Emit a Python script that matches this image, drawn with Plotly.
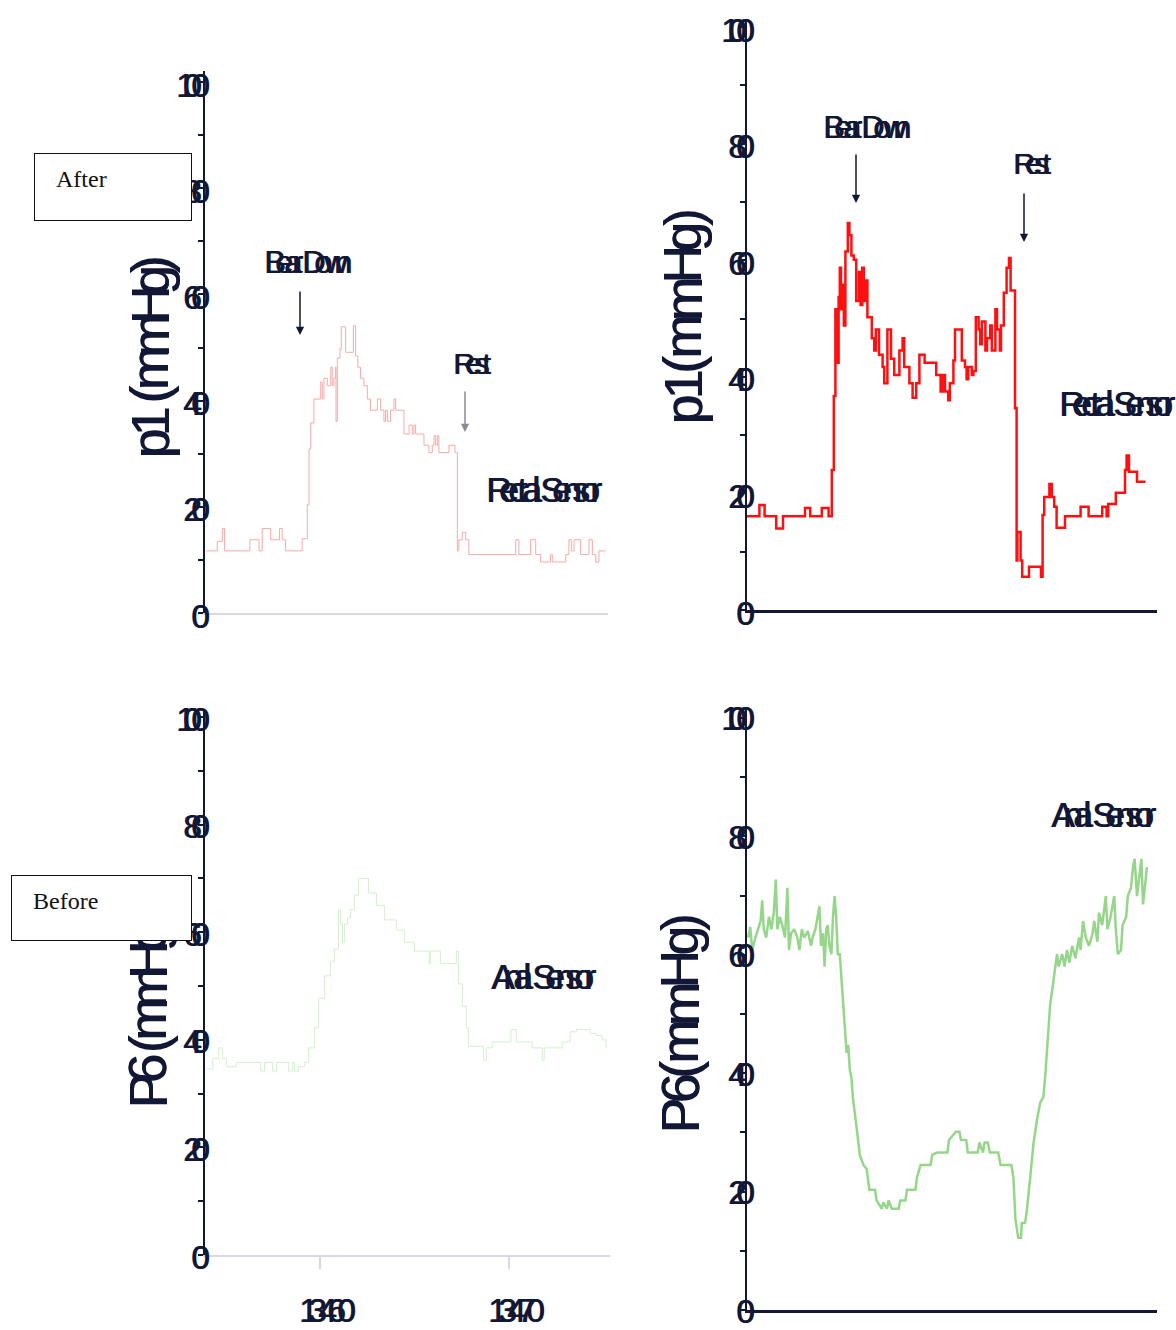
import plotly.graph_objects as go

# ---------------------------------------------------------------- data
# Left column: recording time (s); right column: elapsed time (s)
after_t = [13454.0, 13454.6, 13454.87, 13454.99, 13456.33, 13456.81, 13456.98, 13457.43,
           13457.90, 13458.04, 13458.22, 13459.10, 13459.37, 13459.46, 13459.55, 13459.72,
           13460.08, 13460.16, 13460.25, 13460.43, 13460.61, 13460.69, 13460.78, 13460.87,
           13460.89, 13460.96, 13461.10, 13461.17, 13461.40, 13461.81, 13461.93, 13462.05,
           13462.19, 13462.37, 13462.55, 13462.72, 13463.08, 13463.25, 13463.43, 13463.52,
           13463.61, 13463.78, 13463.96, 13464.05, 13464.49, 13464.76, 13464.93, 13465.02,
           13465.11, 13465.55, 13465.81, 13465.99, 13466.08, 13466.17, 13466.26, 13466.34,
           13466.87, 13467.19, 13467.32, 13467.40, 13467.58, 13467.76, 13467.93, 13470.41,
           13470.58, 13471.20, 13471.47, 13471.73, 13472.26, 13472.35, 13473.06, 13473.23,
           13473.36, 13473.50, 13473.85, 13474.29, 13474.47, 13474.65, 13474.82, 13475.18]
after_p1 = [11.7, 13.5, 15.9, 11.7, 13.8, 11.7, 15.9, 13.8,
            15.9, 13.8, 11.7, 14.0, 20.4, 30.9, 35.8, 40.3,
            43.5, 40.3, 44.2, 42.8, 46.3, 42.8, 44.2, 46.3,
            36.1, 48.0, 49.8, 53.9, 49.1, 54.1, 48.4, 46.3,
            44.2, 42.8, 40.3, 38.2, 40.3, 38.2, 36.1, 38.2,
            36.1, 38.2, 40.3, 38.2, 33.7, 35.4, 33.7, 35.4,
            33.7, 31.6, 30.2, 31.6, 33.4, 31.6, 33.4, 30.2,
            31.6, 30.2, 11.7, 13.8, 15.2, 13.8, 11.0, 13.8,
            11.0, 13.8, 11.0, 9.6, 11.0, 9.6, 11.0, 13.8,
            11.7, 13.8, 11.0, 13.8, 11.0, 9.6, 11.7, 11.7]

before_t = [13454.04, 13454.36, 13454.67, 13454.88, 13455.09, 13455.62, 13456.88, 13457.09,
            13457.52, 13457.73, 13458.36, 13458.57, 13458.67, 13458.88, 13459.20, 13459.41,
            13459.73, 13459.94, 13460.25, 13460.57, 13460.78, 13460.99, 13461.09, 13461.20,
            13461.31, 13461.47, 13461.62, 13461.83, 13462.04, 13462.57, 13462.99, 13463.41,
            13464.04, 13464.46, 13464.99, 13465.77, 13465.83, 13466.36, 13467.20, 13467.31,
            13467.52, 13467.73, 13467.83, 13468.63, 13468.78, 13469.09, 13470.08, 13470.36,
            13471.20, 13471.73, 13471.83, 13472.78, 13473.20, 13473.52, 13474.25, 13474.57,
            13474.88, 13475.09]
before_p6 = [34.6, 36.5, 38.5, 36.5, 35.0, 35.8, 34.2, 35.8,
             34.2, 35.8, 34.2, 35.8, 34.2, 35.0, 35.8, 38.5,
             42.3, 47.7, 51.9, 54.6, 56.9, 64.2, 61.5, 58.1,
             61.5, 62.7, 64.2, 66.9, 70.0, 67.3, 65.0, 62.3,
             60.4, 58.1, 56.5, 54.2, 56.5, 54.2, 56.5, 50.4,
             46.2, 42.3, 38.8, 36.2, 38.5, 39.6, 41.9, 39.6,
             38.5, 36.2, 38.5, 39.6, 41.5, 41.9, 41.2, 40.8,
             40.0, 38.5]

rest_t = [0, 3.1, 4.4, 7.3, 9.0, 14.5, 15.8, 18.7, 20.4, 21.2, 21.7, 22.1, 22.5, 22.9,
          23.2, 23.5, 23.8, 24.2, 24.6, 25.2, 25.6, 26.1, 26.7, 27.3, 28.0, 28.4, 28.8,
          29.2, 29.7, 30.1, 31.2, 31.8, 32.2, 33.0, 33.9, 34.3, 35.1, 36.0, 36.8, 38.1,
          38.9, 39.3, 40.6, 41.4, 42.3, 43.1, 44.4, 47.3, 48.4, 49.0, 49.5, 50.3, 50.7,
          51.6, 52.0, 53.7, 54.5, 54.9, 55.3, 56.2, 56.6, 57.2, 57.9, 58.3, 58.7, 59.6,
          60.0, 60.8, 61.2, 62.1, 62.5, 63.2, 63.5, 64.2, 64.9, 65.5, 65.9, 67.0, 67.4,
          67.6, 68.4, 68.8, 70.5, 73.5, 73.9, 74.3, 75.6, 76.2, 76.8, 77.4, 79.5, 83.4,
          85.4, 88.8, 89.9, 90.3, 92.2, 94.5, 94.9, 95.5, 97.5, 99.6]
rest_p1 = [16.1, 18.0, 16.1, 14.0, 16.1, 17.5, 16.1, 17.5, 16.1, 24.0, 36.7, 51.6, 42.4, 53.7,
           58.7, 51.6, 55.8, 48.8, 61.5, 66.4, 64.3, 60.8, 60.1, 53.0, 58.0, 52.3, 58.7,
           53.0, 56.5, 50.2, 46.6, 44.5, 48.1, 43.8, 41.7, 38.9, 48.1, 43.1, 40.3, 44.5,
           46.6, 41.7, 38.9, 36.4, 38.9, 43.8, 42.4, 40.3, 37.5, 40.3, 37.5, 36.0, 38.9,
           42.8, 48.1, 42.8, 41.7, 39.6, 41.7, 40.3, 41.0, 50.2, 48.1, 45.6, 49.5, 44.5,
           46.6, 48.8, 44.5, 51.6, 48.1, 44.5, 48.8, 54.4, 58.7, 60.4, 54.8, 34.6, 8.5,
           13.4, 8.5, 5.7, 7.4, 5.7, 16.3, 19.4, 21.6, 19.4, 17.7, 14.1, 16.1, 17.7,
           16.1, 17.7, 16.1, 18.2, 20.1, 24.0, 26.5, 23.7, 22.0, 22.0]

anal_t = [0.3, 0.8, 1.3, 2.1, 3.4, 3.8, 4.2, 4.8, 5.5, 6.1, 6.7, 7.2, 7.6, 8.2, 8.8, 9.5,
          10.1, 10.5, 11.0, 11.8, 12.6, 13.1, 13.7, 14.3, 15.2, 16.0, 16.4, 17.1, 18.1, 18.5,
          19.0, 19.4, 19.8, 20.2, 20.6, 21.1, 21.5, 21.9, 22.3, 22.7, 23.2, 23.6, 24.0, 24.4,
          24.9, 25.3, 25.7, 26.1, 26.5, 27.4, 28.2, 29.1, 29.9, 30.6, 32.0, 32.4, 33.7, 34.1,
          35.0, 35.4, 36.2, 37.9, 38.3, 39.6, 40.0, 42.1, 42.5, 43.4, 45.9, 46.3, 47.6, 50.1,
          50.5, 52.2, 53.1, 53.5, 54.8, 55.2, 57.7, 58.1, 59.0, 59.4, 60.2, 60.7, 62.8, 63.4,
          66.1, 66.6, 67.1, 67.8, 68.5, 68.7, 69.5, 69.9, 70.3, 70.8, 71.6, 72.5, 73.3, 74.1,
          74.6, 75.4, 75.8, 76.4, 77.1, 77.5, 77.9, 78.8, 79.4, 80.0, 80.6, 81.3, 82.1, 83.0,
          83.4, 84.0, 84.7, 85.5, 86.4, 86.8, 87.6, 88.0, 88.8, 89.7, 90.1, 90.9, 91.8, 92.2,
          92.7, 93.5, 93.9, 94.8, 95.2, 96.0, 96.5, 96.9, 97.5, 98.0, 98.6, 99.0, 99.4, 100.0]
anal_p6 = [62.9, 64.7, 60.8, 62.9, 65.7, 69.2, 64.3, 62.9, 66.4, 64.3, 67.1, 72.7, 64.3, 66.4,
           65.0, 62.9, 71.3, 60.8, 63.6, 64.3, 62.9, 60.8, 64.3, 62.9, 64.0, 61.5, 62.9, 64.3,
           68.2, 61.5, 63.6, 58.0, 64.3, 65.0, 61.5, 60.1, 66.4, 69.9, 66.4, 60.1, 60.1, 55.9,
           51.7, 47.6, 43.4, 44.8, 40.6, 39.2, 35.7, 30.8, 26.2, 24.5, 23.8, 20.3, 20.3, 18.5,
           17.1, 18.2, 17.1, 18.5, 17.1, 17.1, 18.5, 18.5, 20.3, 20.3, 22.4, 24.5, 24.5, 26.2,
           26.6, 26.6, 28.7, 30.1, 30.1, 28.7, 28.7, 26.6, 26.6, 28.3, 26.6, 28.3, 28.3, 26.6,
           26.6, 24.5, 24.5, 22.4, 15.4, 12.2, 12.2, 14.7, 14.7, 16.4, 19.6, 22.4, 28.0, 32.2,
           35.0, 36.0, 39.9, 46.9, 51.7, 54.5, 58.7, 60.1, 58.0, 60.1, 58.0, 60.8, 58.7, 61.5,
           59.4, 62.9, 60.8, 65.7, 62.9, 61.5, 63.6, 65.7, 62.2, 67.1, 65.0, 69.9, 64.3, 66.4,
           69.9, 64.3, 60.1, 60.8, 65.0, 66.4, 69.9, 71.3, 74.8, 76.2, 69.9, 72.7, 76.2, 68.5,
           71.3, 74.8]

y_tick_values = [0, 20, 40, 60, 80, 100]
x_tick_values = [13460, 13470]
x_tick_labels = ["13460", "13470"]

# ---------------------------------------------------------------- layout helpers
W, H = 1176, 1330
NAVY = "#121735"
SANS = "Liberation Sans, Arial, sans-serif"
SERIF = "Liberation Serif, Times New Roman, serif"
HEAVY = "0.9px 0 0 #121735"   # thickens the condensed lettering slightly


def fx(px):
    return px / W


def fy(py):
    return 1 - py / H


# Arial advance widths (1/1000 em) for condensed, overlapping lettering
ADV = {d: 556 for d in "0123456789"}
ADV.update({" ": 278, "B": 667, "e": 556, "a": 556, "r": 333, "D": 722, "o": 556,
            "w": 722, "n": 556, "R": 722, "s": 500, "t": 278, "c": 500, "l": 222,
            "S": 667, "A": 667, "p": 556, "(": 333, ")": 333, "m": 833, "H": 722,
            "g": 556, "P": 667, ".": 278})

annotations = []


def tight_text(text, x, y, size, squeeze, align="left", xref="paper", yref="paper",
               dx=0, dy=0):
    widths = [ADV.get(c, 556) * size / 1000 for c in text]
    total = sum(w * squeeze for w in widths[:-1]) + widths[-1]
    start = {"left": 0, "center": -total / 2, "right": -total}[align] + dx
    pos = start
    for c, w in zip(text, widths):
        if c != " ":
            annotations.append(dict(text=c, x=x, y=y, xref=xref, yref=yref, xshift=pos,
                                    yshift=dy, xanchor="left", yanchor="middle",
                                    showarrow=False, borderpad=0,
                                    font=dict(family=SANS, size=size, color=NAVY,
                                              shadow=HEAVY)))
        pos += w * squeeze


def tight_vertical(text, x_px, bottom_px, size, squeeze):
    pos = 0
    for c in text:
        w = ADV.get(c, 556) * size / 1000
        if c != " ":
            annotations.append(dict(text=c, x=fx(x_px), y=fy(bottom_px), xref="paper",
                                    yref="paper", yshift=pos, textangle=-90,
                                    xanchor="center", yanchor="bottom", showarrow=False,
                                    borderpad=0,
                                    font=dict(family=SANS, size=size, color=NAVY,
                                              shadow=HEAVY)))
        pos += w * squeeze


def arrow(x_px, head_px, length, color=NAVY):
    annotations.append(dict(text="", x=fx(x_px), y=fy(head_px), xref="paper", yref="paper",
                            ax=0, ay=-length, showarrow=True, arrowhead=2, arrowsize=1.1,
                            arrowwidth=1.5, arrowcolor=color))


# panel frames in pixels: (left, right, y of zero, y of top, y range top)
panels = {
    "tl": (205, 608, 613, 71.4, 102),
    "tr": (747, 1157, 610, 21.2, 101),
    "bl": (205, 610, 1255, 709, 101.5),
    "br": (747, 1157, 1310, 709, 101.5),
}

fig = go.Figure()
fig.add_trace(go.Scatter(x=after_t, y=after_p1, mode="lines", xaxis="x", yaxis="y",
                         line=dict(color="#f6aaaa", width=1, shape="hv")))
fig.add_trace(go.Scatter(x=rest_t, y=rest_p1, mode="lines", xaxis="x2", yaxis="y2",
                         line=dict(color="#ff1010", width=2.5, shape="hv")))
fig.add_trace(go.Scatter(x=before_t, y=before_p6, mode="lines", xaxis="x3", yaxis="y3",
                         line=dict(color="#d6eed0", width=1, shape="hv")))
fig.add_trace(go.Scatter(x=anal_t, y=anal_p6, mode="lines", xaxis="x4", yaxis="y4",
                         line=dict(color="#96d68a", width=2.5)))


def yaxis_for(key):
    left, right, y0, ytop, rtop = panels[key]
    return dict(domain=[fy(y0), fy(ytop)], range=[0, rtop], showline=True,
                linecolor=NAVY, linewidth=2, ticks="outside", tick0=0, dtick=10,
                ticklen=5, tickwidth=2, tickcolor=NAVY, showticklabels=False,
                showgrid=False, zeroline=False)


def xaxis_for(key, xrange, dark):
    left, right, y0, ytop, rtop = panels[key]
    return dict(domain=[fx(left), fx(right)], range=xrange, showline=True,
                linecolor=NAVY if dark else "#d6d8e4", linewidth=3 if dark else 1.5,
                ticks="", showticklabels=False, showgrid=False, zeroline=False)


left_range = [13453.95, 13475.3]
right_range = [0, 102.5]

layout = dict(width=W, height=H, margin=dict(l=0, r=0, t=0, b=0),
              paper_bgcolor="white", plot_bgcolor="white", showlegend=False)
layout["xaxis"] = xaxis_for("tl", left_range, False) | dict(anchor="y")
layout["yaxis"] = yaxis_for("tl") | dict(anchor="x")
layout["xaxis2"] = xaxis_for("tr", right_range, True) | dict(anchor="y2")
layout["yaxis2"] = yaxis_for("tr") | dict(anchor="x2")
layout["xaxis3"] = xaxis_for("bl", left_range, False) | dict(
    anchor="y3", ticks="outside", tickvals=x_tick_values, ticklen=12, tickwidth=1.5,
    tickcolor="#d6d8e4")
layout["yaxis3"] = yaxis_for("bl") | dict(anchor="x3")
layout["xaxis4"] = xaxis_for("br", right_range, True) | dict(anchor="y4")
layout["yaxis4"] = yaxis_for("br") | dict(anchor="x4")

# y tick labels (condensed numerals)
for key, yref, right_px, shift in [("tl", "y", 208, -3), ("tr", "y2", 753, -3),
                                   ("bl", "y3", 208, -2), ("br", "y4", 753, -1)]:
    for v in y_tick_values:
        tight_text(str(v), fx(right_px), v, 33, 0.4, align="right", yref=yref, dy=shift)

# x tick labels of the lower-left panel
for v, lab in zip(x_tick_values, x_tick_labels):
    tight_text(lab, v, fy(1310), 33, 0.52, align="center", xref="x3", dx=6)

# axis titles
tight_vertical("p1 (mmHg)", 150, 460, 53, 0.75)
tight_vertical("p1(mmHg)", 683, 425, 53, 0.85)
tight_vertical("P6 (mmHg)", 148, 1110, 53, 0.7)
tight_vertical("P6(mmHg)", 680, 1135, 53, 0.85)

# event labels
tight_text("Bear Down", fx(263), fy(262), 32, 0.5)
tight_text("Rest", fx(452), fy(363), 30, 0.55)
tight_text("Rectal Sensor", fx(485), fy(489), 35, 0.5)
tight_text("Bear Down", fx(822), fy(127), 32, 0.5)
tight_text("Rest", fx(1012), fy(164), 30, 0.55)
tight_text("Rectal Sensor", fx(1058), fy(404), 35, 0.5)
tight_text("Anal Sensor", fx(490), fy(976), 35, 0.52)
tight_text("Anal Sensor", fx(1050), fy(814), 35, 0.52)

arrow(300, 335, 45)
arrow(465, 432, 42, color="#8a8a94")
arrow(856, 203, 50)
arrow(1024, 242, 50)

# condition boxes drawn last so they sit over the axis lettering
for label, left, top, w, h, tx, ty in [("After", 34, 153, 156, 66, 55, 179),
                                       ("Before", 11, 875, 179, 64, 32, 901)]:
    annotations.append(dict(text=" ", x=fx(left), y=fy(top), xref="paper", yref="paper",
                            xanchor="left", yanchor="top", width=w, height=h,
                            bgcolor="white", bordercolor="#111111", borderwidth=1,
                            borderpad=0, showarrow=False))
    annotations.append(dict(text=label, x=fx(tx), y=fy(ty), xref="paper", yref="paper",
                            xanchor="left", yanchor="middle", showarrow=False,
                            borderpad=0, font=dict(family=SERIF, size=24, color="#111111")))

layout["annotations"] = annotations
fig.update_layout(**layout)
fig.write_html("out.html")
